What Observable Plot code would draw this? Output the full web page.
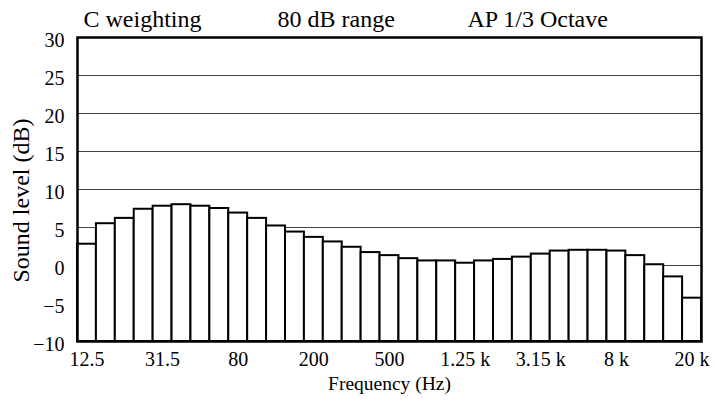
<!DOCTYPE html>
<html><head><meta charset="utf-8">
<script src="https://cdn.jsdelivr.net/npm/d3@7"></script>
<script src="https://cdn.jsdelivr.net/npm/@observablehq/plot@0.6"></script>
<style>
body{margin:0;background:#fff}
#chart svg{font-family:"Liberation Serif","Times New Roman",serif}
</style>
</head><body><div id="chart"></div>
<script>
const bands = ["12.5","16","20","25","31.5","40","50","63","80","100","125","160","200","250","315","400","500","630","800","1 k","1.25 k","1.6 k","2 k","2.5 k","3.15 k","4 k","5 k","6.3 k","8 k","10 k","12.5 k","16 k","20 k"];
const levels = [2.8, 5.5, 6.2, 7.4, 7.8, 8.0, 7.8, 7.5, 6.9, 6.2, 5.2, 4.4, 3.7, 3.1, 2.4, 1.7, 1.3, 0.9, 0.6, 0.6, 0.3, 0.6, 0.8, 1.1, 1.5, 1.9, 2.0, 2.0, 1.9, 1.3, 0.1, -1.5, -4.3];
const xTickLabels = ["12.5","31.5","80","200","500","1.25 k","3.15 k","8 k","20 k"];
const yTicks = [-10,-5,0,5,10,15,20,25,30];
const yDomain = [-10, 30];
const headings = ["C weighting","80 dB range","AP 1/3 Octave"];
const xTitle = "Frequency (Hz)";
const yTitle = "Sound level (dB)";

const data = bands.map((b, i) => ({band: b, level: levels[i]}));

const plot = Plot.plot({
  width: 716, height: 404,
  marginLeft: 77, marginRight: 15, marginTop: 37, marginBottom: 63,
  style: {fontFamily: "'Liberation Serif','Times New Roman',serif", color: "#000", background: "#fff"},
  x: {type: "band", domain: bands, padding: 0},
  y: {domain: yDomain},
  marks: [
    Plot.gridY(yTicks, {stroke: "#444", strokeOpacity: 1, strokeWidth: 1.2}),
    Plot.barY(data, {x: "band", y1: yDomain[0], y2: "level", fill: "white", stroke: "black", strokeWidth: 2, inset: 0}),
    Plot.frame({stroke: "black", strokeWidth: 2.5}),
    Plot.axisX({ticks: xTickLabels, tickSize: 0, tickPadding: 10, fontSize: 20, label: null}),
    Plot.axisY({ticks: yTicks, tickSize: 0, tickPadding: 13, fontSize: 20, dy: 3, label: null}),
    Plot.text([xTitle], {text: d => d, frameAnchor: "bottom", lineAnchor: "middle", textAnchor: "middle", dy: 42, fontSize: 19.5}),
    Plot.text([yTitle], {text: d => d, frameAnchor: "left", lineAnchor: "middle", textAnchor: "middle", rotate: -90, dx: -56, dy: 11, fontSize: 24}),
    Plot.text([headings[0]], {text: d => d, frameAnchor: "top-left", lineAnchor: "middle", textAnchor: "start", dx: 6, dy: -18, fontSize: 24}),
    Plot.text([headings[1]], {text: d => d, frameAnchor: "top-left", lineAnchor: "middle", textAnchor: "start", dx: 200, dy: -18, fontSize: 24}),
    Plot.text([headings[2]], {text: d => d, frameAnchor: "top-left", lineAnchor: "middle", textAnchor: "start", dx: 390, dy: -18, fontSize: 24})
  ]
});
document.getElementById("chart").append(plot);
</script>
</body></html>
